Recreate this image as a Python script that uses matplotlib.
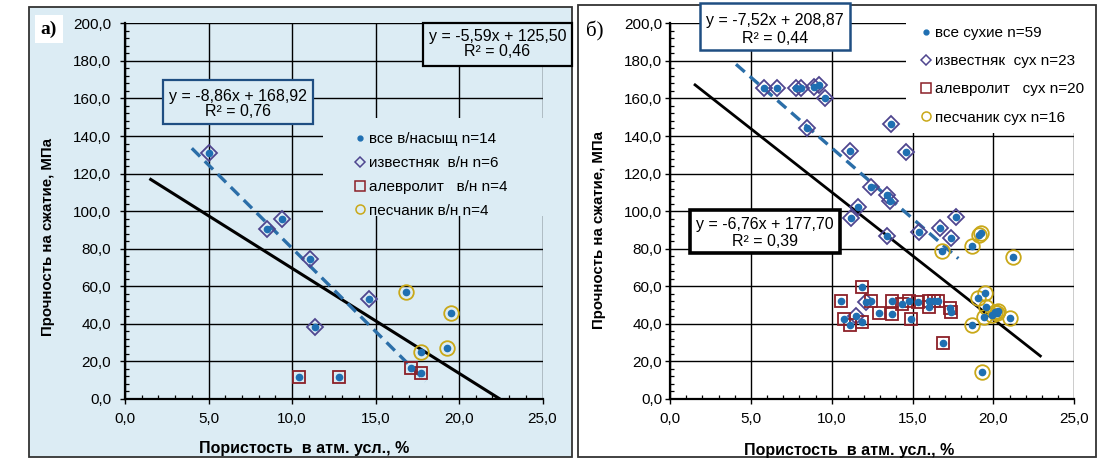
import matplotlib
matplotlib.use('Agg')
import matplotlib.pyplot as plt
from matplotlib.patches import Rectangle
from matplotlib.lines import Line2D
from matplotlib.ticker import MultipleLocator, FuncFormatter

plt.rcParams['font.family'] = ['Liberation Sans', 'DejaVu Sans']

# ---------------- data: panel a (water-saturated) ----------------
lime_a_x = [5.0, 8.5, 9.4, 11.1, 14.6, 11.4]
lime_a_y = [131.0, 90.5, 96.0, 74.5, 53.0, 38.5]
silt_a_x = [10.4, 12.8, 17.1, 17.7]
silt_a_y = [11.5, 11.5, 16.3, 14.0]
sand_a_x = [16.8, 19.5, 19.3, 17.7]
sand_a_y = [57.0, 46.0, 27.3, 25.2]

# ---------------- data: panel b (dry) ----------------
lime_b_x = [5.8, 6.6, 7.8, 8.1, 8.9, 9.2, 9.6, 8.5, 11.1, 13.65, 14.6, 12.4, 13.4,
            13.6, 11.65, 11.2, 13.4, 15.4, 16.7, 17.7, 17.4, 12.1, 11.5]
lime_b_y = [165.4, 165.4, 165.4, 165.4, 166.3, 167.2, 160.1, 144.1, 132.0, 146.4, 131.7,
            113.0, 108.6, 105.5, 102.0, 96.2, 86.8, 89.0, 91.0, 97.0, 85.5, 51.5, 44.4]
silt_b_x = [10.6, 10.75, 11.1, 11.9, 11.9, 12.4, 12.95, 13.7, 13.7, 14.35, 14.75, 14.9,
            15.35, 16.0, 16.0, 16.3, 16.6, 17.3, 17.4, 16.9]
silt_b_y = [52.4, 42.6, 39.2, 59.5, 41.0, 52.4, 46.0, 52.4, 45.4, 50.6, 52.4, 42.6,
            51.4, 52.4, 48.8, 52.4, 52.4, 48.3, 46.5, 30.0]
sand_b_x = [19.2, 19.1, 18.65, 16.8, 21.2, 19.05, 19.5, 19.55, 19.4, 20.1, 20.2, 21.0,
            18.7, 19.3, 19.9, 20.3]
sand_b_y = [88.6, 87.3, 81.5, 79.0, 75.8, 53.6, 56.3, 49.1, 43.8, 46.5, 45.6, 43.0,
            39.4, 14.5, 44.7, 47.0]

# trend lines: slope, intercept, x-start, x-end
trend_a_all = (-5.59, 125.50, 1.54, 22.45)
trend_a_lime = (-8.86, 168.92, 4.0, 18.0)
trend_b_all = (-6.76, 177.70, 1.55, 22.9)
trend_b_lime = (-7.52, 208.87, 4.08, 17.83)

eq_a_all = ["y = -5,59x + 125,50", "R² = 0,46"]
eq_a_lime = ["y = -8,86x + 168,92", "R² = 0,76"]
eq_b_all = ["y = -6,76x + 177,70", "R² = 0,39"]
eq_b_lime = ["y = -7,52x + 208,87", "R² = 0,44"]

legend_a = ["все в/насыщ n=14", "известняк  в/н n=6", "алевролит   в/н n=4", "песчаник в/н n=4"]
legend_b = ["все сухие n=59", "известняк  сух n=23", "алевролит   сух n=20", "песчаник сух n=16"]

xlabel = "Пористость  в атм. усл., %"
ylabel = "Прочность на сжатие, МПа"

# ---------------- styles ----------------
BG = '#dcecf4'
C_DOT = '#1f6fb2'
C_DIA = '#4f468f'
C_SQ = '#8c2028'
C_CIR = '#c9a818'
C_DASH = '#2b6ea8'
C_BOX = '#1f4e82'

W, H = 1099, 459
fig = plt.figure(figsize=(W / 100, H / 100), dpi=100)


def fx(px):
    return px / W


def fy(py):
    return 1 - py / H


def frect(x0, y0, x1, y1, **kw):
    r = Rectangle((fx(x0), fy(y1)), (x1 - x0) / W, (y1 - y0) / H,
                  transform=fig.transFigure, **kw)
    fig.add_artist(r)
    return r


# panel frames
frect(29, 7, 572, 457, fc=BG, ec='#333333', lw=1.3, zorder=-2)
frect(578, 5, 1096, 457, fc='white', ec='#333333', lw=1.3, zorder=-2)

fmt = FuncFormatter(lambda v, p: f"{v:.1f}".replace('.', ','))


def make_axes(left_px, right_px, ypad):
    ax = fig.add_axes([fx(left_px), fy(399), (right_px - left_px) / W, (399 - 23.3) / H])
    ax.set_facecolor('none')
    ax.set_xlim(0, 25)
    ax.set_ylim(0, 200)
    ax.xaxis.set_major_locator(MultipleLocator(5))
    ax.xaxis.set_minor_locator(MultipleLocator(1))
    ax.yaxis.set_major_locator(MultipleLocator(20))
    ax.yaxis.set_minor_locator(MultipleLocator(4))
    ax.xaxis.set_major_formatter(fmt)
    ax.yaxis.set_major_formatter(fmt)
    ax.set_axisbelow(True)
    ax.grid(True, which='major', color='black', lw=1.0)
    for s in ['top', 'right']:
        ax.spines[s].set_visible(False)
    for s in ['left', 'bottom']:
        ax.spines[s].set_linewidth(1.6)
    ax.tick_params(which='major', direction='out', length=3.5, width=1, labelsize=11)
    ax.tick_params(axis='x', which='major', pad=6)
    ax.tick_params(axis='y', which='major', pad=ypad)
    ax.tick_params(which='minor', direction='in', length=2.6, width=0.9)
    return ax


def draw_points(ax, lx, ly, sx, sy, cx, cy):
    ax.plot(lx, ly, ls='none', marker='D', ms=8, mfc='none', mec=C_DIA, mew=1.3, zorder=3)
    ax.plot(sx, sy, ls='none', marker='s', ms=8.2, mfc='none', mec=C_SQ, mew=1.3, zorder=3)
    ax.plot(cx, cy, ls='none', marker='o', ms=10.5, mfc='none', mec=C_CIR, mew=1.3, zorder=3)
    ax.plot(lx + sx + cx, ly + sy + cy, ls='none', marker='o', ms=4.5, mfc=C_DOT, mec=C_DOT, zorder=4)


def draw_trend(ax, t, **kw):
    k, b, x0, x1 = t
    ax.plot([x0, x1], [k * x0 + b, k * x1 + b], **kw)


def eq_box(x0, y0, x1, y1, lines, yc, ec, fc, lw):
    frect(x0, y0, x1, y1, fc=fc, ec=ec, lw=lw, zorder=6)
    cx = (x0 + x1) / 2
    for t, yy in zip(lines, yc):
        fig.text(fx(cx), fy(yy), t, ha='center', va='center', fontsize=11.5, zorder=7)


def legend(ax, labels, xpx, ypx, spacing, fc):
    handles = [
        Line2D([], [], ls='none', marker='o', ms=3.5, mfc=C_DOT, mec=C_DOT),
        Line2D([], [], ls='none', marker='D', ms=5.5, mfc='none', mec=C_DIA, mew=1.1),
        Line2D([], [], ls='none', marker='s', ms=6.5, mfc='none', mec=C_SQ, mew=1.1),
        Line2D([], [], ls='none', marker='o', ms=6.5, mfc='none', mec=C_CIR, mew=1.1),
    ]
    lg = fig.legend(handles, labels, loc='upper left', bbox_to_anchor=(fx(xpx), fy(ypx)),
                    bbox_transform=fig.transFigure, frameon=False, fontsize=11,
                    handlelength=0.6, handletextpad=0.3, labelspacing=spacing,
                    borderpad=0, borderaxespad=0)
    lg.set_zorder(10)


# ---------------- panel a ----------------
axa = make_axes(125, 542.5, 6.5)
draw_points(axa, lime_a_x, lime_a_y, silt_a_x, silt_a_y, sand_a_x, sand_a_y)
draw_trend(axa, trend_a_all, color='black', lw=2.2, zorder=2)
draw_trend(axa, trend_a_lime, color=C_DASH, lw=2.4, ls=(0, (3.5, 2)), zorder=2)

frect(323, 118, 545, 216, fc=BG, ec='none', zorder=5)
legend(axa, legend_a, 355, 132, 0.65, BG)
eq_box(422.7, 23, 572, 66, eq_a_all, [36, 52], 'black', BG, 1.6)
eq_box(163, 80, 313, 124, eq_a_lime, [96.5, 112], C_BOX, BG, 1.6)

frect(35, 15, 63, 43, fc='white', ec='none', zorder=6)
fig.text(fx(49), fy(29), "а)", family='Liberation Serif', weight='bold', fontsize=14,
         ha='center', va='center', zorder=7)
fig.text(fx(304), fy(448), xlabel, ha='center', va='center', fontsize=11.5, weight='bold')
fig.text(fx(48.3), fy(237.5), ylabel, ha='center', va='center', rotation=90,
         fontsize=10.8, weight='bold')

# ---------------- panel b ----------------
axb = make_axes(670, 1074.3, 2)
draw_points(axb, lime_b_x, lime_b_y, silt_b_x, silt_b_y, sand_b_x, sand_b_y)
draw_trend(axb, trend_b_all, color='black', lw=2.0, zorder=2)
draw_trend(axb, trend_b_lime, color=C_DASH, lw=2.4, ls=(0, (3.5, 2)), zorder=2)

frect(906, 8, 1080, 133, fc='white', ec='none', zorder=5)
legend(axb, legend_b, 921, 26, 0.93, 'white')
eq_box(700, 3, 850, 50, eq_b_lime, [21, 38.5], C_BOX, 'white', 1.8)
eq_box(690, 210, 840, 253, eq_b_all, [224, 242], 'black', 'white', 2.6)

fig.text(fx(595), fy(31), "б)", family='Liberation Serif', fontsize=15,
         ha='center', va='center', zorder=7)
fig.text(fx(849), fy(450), xlabel, ha='center', va='center', fontsize=11.5, weight='bold')
fig.text(fx(599), fy(230), ylabel, ha='center', va='center', rotation=90,
         fontsize=10.8, weight='bold')

fig.savefig('out.png', dpi=100)
